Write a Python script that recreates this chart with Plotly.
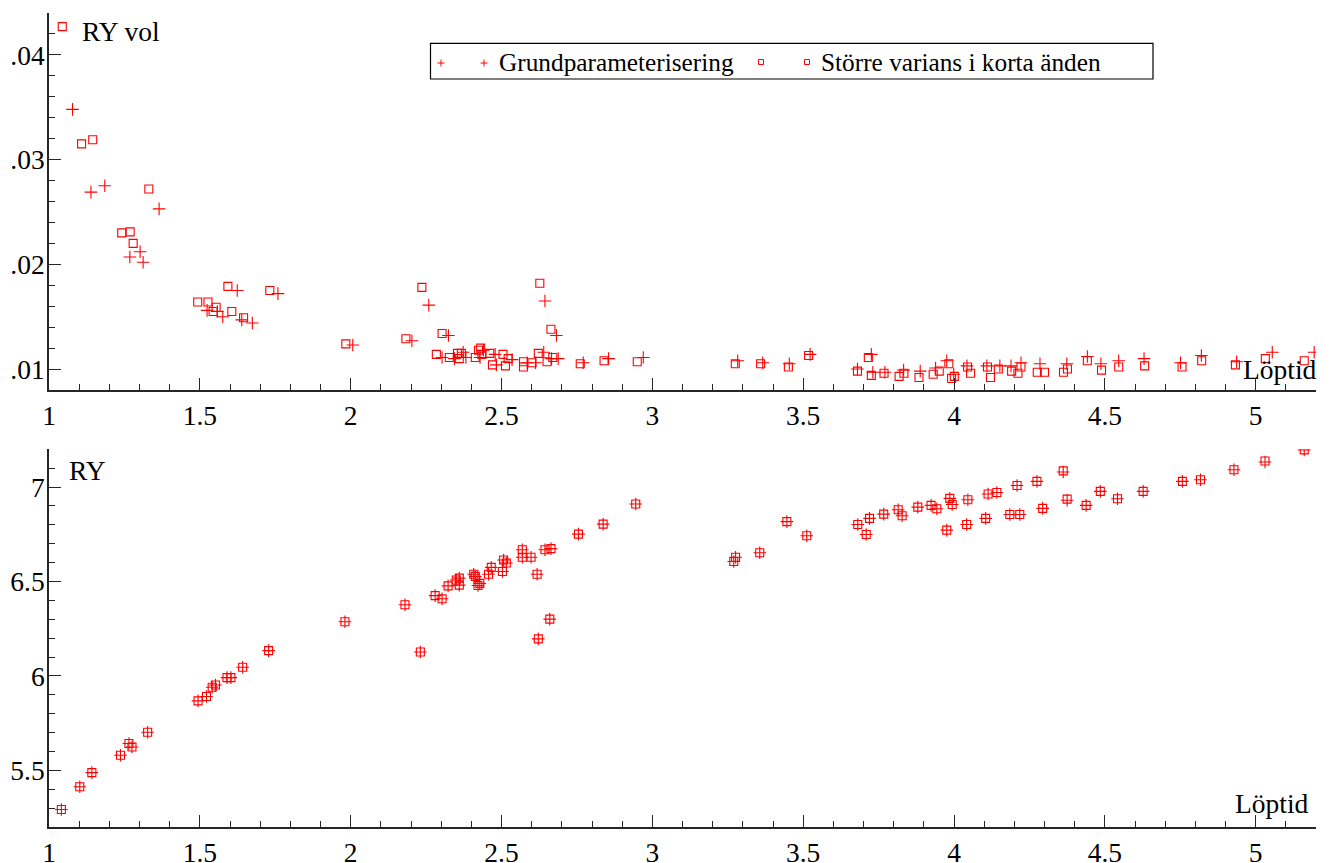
import plotly.graph_objects as go
from plotly.subplots import make_subplots

# ---------------- data ----------------
# Top panel: RY vol
VOL_STOR_X = [1.044, 1.108, 1.145, 1.241, 1.269, 1.279, 1.331, 1.493, 1.527, 1.544, 1.554, 1.593, 1.606,
              1.645, 1.732, 1.984, 2.183, 2.236, 2.284, 2.303, 2.327, 2.354, 2.360, 2.367, 2.413, 2.424,
              2.431, 2.435, 2.461, 2.470, 2.505, 2.513, 2.522, 2.573, 2.573, 2.601, 2.622, 2.627, 2.651,
              2.664, 2.670, 2.761, 2.840, 2.950, 3.275, 3.359, 3.451, 3.518, 3.680, 3.716, 3.726, 3.768,
              3.818, 3.834, 3.884, 3.931, 3.951, 3.983, 3.992, 4.001, 4.045, 4.055, 4.111, 4.121, 4.147,
              4.191, 4.212, 4.222, 4.276, 4.300, 4.363, 4.376, 4.442, 4.489, 4.546, 4.632, 4.756, 4.821,
              4.933, 5.032, 5.161]
VOL_STOR_Y = [0.0427, 0.0315, 0.0319, 0.0230, 0.0231, 0.0220, 0.0272, 0.0164, 0.0164, 0.0155, 0.0159, 0.0179, 0.0155,
              0.0149, 0.0175, 0.0124, 0.0129, 0.0178, 0.0114, 0.0134, 0.0111, 0.0115, 0.0110, 0.0115, 0.0111, 0.0118,
              0.0120, 0.0114, 0.0115, 0.0104, 0.0114, 0.0103, 0.0110, 0.0107, 0.0102, 0.0106, 0.0115, 0.0182, 0.0107,
              0.0138, 0.0111, 0.0105, 0.0108, 0.0107, 0.0105, 0.0105, 0.0102, 0.0113, 0.0098, 0.0111, 0.0094, 0.0096,
              0.0093, 0.0096, 0.0092, 0.0095, 0.0098, 0.0105, 0.0091, 0.0093, 0.0102, 0.0096, 0.0102, 0.0092, 0.0100,
              0.0098, 0.0096, 0.0102, 0.0097, 0.0097, 0.0097, 0.0100, 0.0108, 0.0099, 0.0102, 0.0103, 0.0102, 0.0108,
              0.0104, 0.0110, 0.0108]

VOL_GRUND_X = [1.078, 1.139, 1.185, 1.268, 1.302, 1.312, 1.365, 1.524, 1.558, 1.576, 1.624, 1.639, 1.674,
               1.759, 2.007, 2.203, 2.259, 2.303, 2.324, 2.344, 2.373, 2.382, 2.429, 2.440, 2.479, 2.483,
               2.535, 2.585, 2.613, 2.640, 2.644, 2.666, 2.682, 2.688, 2.771, 2.855, 2.970, 3.283, 3.366,
               3.454, 3.523, 3.680, 3.726, 3.731, 3.771, 3.833, 3.888, 3.939, 3.976, 3.999, 4.043, 4.109,
               4.152, 4.189, 4.222, 4.285, 4.374, 4.442, 4.487, 4.546, 4.630, 4.751, 4.820, 4.937, 5.055,
               5.194]
VOL_GRUND_Y = [0.0348, 0.0269, 0.0275, 0.0207, 0.0212, 0.0202, 0.0253, 0.0156, 0.0155, 0.0150, 0.0175, 0.0147, 0.0144,
               0.0172, 0.0123, 0.0127, 0.0161, 0.0111, 0.0132, 0.0110, 0.0116, 0.0111, 0.0111, 0.0118, 0.0114, 0.0104,
               0.0109, 0.0106, 0.0106, 0.0116, 0.0165, 0.0110, 0.0132, 0.0110, 0.0106, 0.0110, 0.0111, 0.0108, 0.0106,
               0.0105, 0.0114, 0.0100, 0.0114, 0.0097, 0.0097, 0.0099, 0.0098, 0.0101, 0.0108, 0.0095, 0.0103, 0.0103,
               0.0103, 0.0103, 0.0106, 0.0105, 0.0105, 0.0112, 0.0105, 0.0108, 0.0110, 0.0106, 0.0113, 0.0107, 0.0116,
               0.0116]

# Bottom panel: RY
RY_X = [1.041, 1.102, 1.142, 1.237, 1.265, 1.275, 1.327, 1.494, 1.522, 1.541, 1.552, 1.590, 1.603, 1.642,
        1.728, 1.981, 2.180, 2.231, 2.280, 2.303, 2.323, 2.350, 2.360, 2.360, 2.408, 2.413, 2.422, 2.428,
        2.457, 2.466, 2.503, 2.507, 2.516, 2.569, 2.569, 2.598, 2.618, 2.622, 2.644, 2.660, 2.664, 2.755,
        2.837, 2.945, 3.270, 3.276, 3.356, 3.446, 3.512, 3.681, 3.709, 3.720, 3.767, 3.815, 3.828, 3.880,
        3.924, 3.943, 3.976, 3.986, 3.994, 4.042, 4.046, 4.105, 4.113, 4.142, 4.185, 4.209, 4.218, 4.275,
        4.294, 4.362, 4.375, 4.438, 4.485, 4.542, 4.627, 4.757, 4.817, 4.928, 5.031, 5.161]
RY_GRUND = [5.293, 5.413, 5.488, 5.580, 5.642, 5.624, 5.702, 5.868, 5.891, 5.940, 5.952, 5.991, 5.991, 6.046,
            6.134, 6.287, 6.377, 6.127, 6.425, 6.409, 6.477, 6.508, 6.518, 6.481, 6.538, 6.527, 6.479, 6.490,
            6.538, 6.575, 6.553, 6.614, 6.598, 6.668, 6.628, 6.628, 6.538, 6.196, 6.668, 6.301, 6.674, 6.751,
            6.804, 6.910, 6.606, 6.628, 6.652, 6.817, 6.742, 6.802, 6.749, 6.834, 6.857, 6.880, 6.848, 6.894,
            6.903, 6.885, 6.772, 6.940, 6.908, 6.802, 6.933, 6.834, 6.963, 6.971, 6.855, 7.008, 6.855, 7.030,
            6.887, 7.080, 6.930, 6.903, 6.977, 6.938, 6.977, 7.030, 7.039, 7.092, 7.133, 7.197]
RY_STOR = [5.293, 5.413, 5.488, 5.580, 5.642, 5.624, 5.702, 5.868, 5.891, 5.940, 5.952, 5.991, 5.991, 6.046,
           6.134, 6.287, 6.377, 6.127, 6.425, 6.409, 6.477, 6.508, 6.518, 6.481, 6.538, 6.527, 6.479, 6.490,
           6.538, 6.575, 6.553, 6.614, 6.598, 6.668, 6.628, 6.628, 6.538, 6.196, 6.668, 6.301, 6.674, 6.751,
           6.804, 6.910, 6.606, 6.628, 6.652, 6.817, 6.742, 6.802, 6.749, 6.834, 6.857, 6.880, 6.848, 6.894,
           6.903, 6.885, 6.772, 6.940, 6.908, 6.802, 6.933, 6.834, 6.963, 6.971, 6.855, 7.008, 6.855, 7.030,
           6.887, 7.086, 6.936, 6.903, 6.977, 6.938, 6.977, 7.030, 7.039, 7.092, 7.138, 7.197]

X_TICKS = [1, 1.5, 2, 2.5, 3, 3.5, 4, 4.5, 5]
X_TICK_TEXT = ["1", "1.5", "2", "2.5", "3", "3.5", "4", "4.5", "5"]
VOL_TICKS = [0.01, 0.02, 0.03, 0.04]
VOL_TICK_TEXT = [".01", ".02", ".03", ".04"]
RY_TICKS = [5.5, 6, 6.5, 7]
RY_TICK_TEXT = ["5.5", "6", "6.5", "7"]

NAME_GRUND = "Grundparameterisering"
NAME_STOR = "Större varians i korta änden"

# ---------------- layout constants ----------------
OFF = 8  # page body margin
W, H = 1331 - OFF, 863 - OFF
L_ABS, R_ABS, T_ABS, B_ABS = 49, 1316, 13, 827   # plot area in window pixels
ML = L_ABS - OFF
MR = W - (R_ABS - OFF)
MT = T_ABS - OFF
MB = H - (B_ABS - OFF)
FONT = "Liberation Serif"
RED = "#ff0000"
AXC = "#262626"


def px_x(px):
    return (px - L_ABS) / (R_ABS - L_ABS)


def px_y(py):
    return (B_ABS - py) / (B_ABS - T_ABS)


top_lo = px_y(390)
bot_hi = px_y(449.3)

fig = make_subplots(rows=2, cols=1, shared_xaxes=False, vertical_spacing=0.05)

plus_marker = dict(symbol="cross-thin-open", size=9, color=RED, line=dict(color=RED, width=1.1))
sq_marker = dict(symbol="square-open", size=8, color=RED, line=dict(color=RED, width=1.1))

fig.add_trace(go.Scatter(x=VOL_GRUND_X, y=VOL_GRUND_Y, mode="markers", marker=plus_marker,
                         name=NAME_GRUND, showlegend=False), row=1, col=1)
fig.add_trace(go.Scatter(x=VOL_STOR_X, y=VOL_STOR_Y, mode="markers", marker=sq_marker,
                         name=NAME_STOR, showlegend=False), row=1, col=1)
fig.add_trace(go.Scatter(x=RY_X, y=RY_GRUND, mode="markers", marker=plus_marker,
                         name=NAME_GRUND, showlegend=False), row=2, col=1)
fig.add_trace(go.Scatter(x=RY_X, y=RY_STOR, mode="markers", marker=sq_marker,
                         name=NAME_STOR, showlegend=False), row=2, col=1)

xcommon = dict(range=[1, 5.2], tickvals=X_TICKS, ticktext=X_TICK_TEXT, ticks="inside", ticklen=12,
               tickwidth=1.3, tickcolor=AXC, showline=True, linecolor=AXC, linewidth=1.6, automargin=False,
               showgrid=False, zeroline=False, tickfont=dict(family=FONT, size=27.5, color="black"),
               minor=dict(ticks="inside", ticklen=6, dtick=0.1, tick0=1, tickcolor=AXC, tickwidth=1.1,
                          showgrid=False))
fig.update_xaxes(**xcommon)
fig.update_layout(
    xaxis=dict(domain=[0, 1], anchor="y"),
    xaxis2=dict(domain=[0, 1], anchor="y2"),
    yaxis=dict(domain=[top_lo, 1], range=[0.008, 0.044], tickvals=VOL_TICKS, ticktext=VOL_TICK_TEXT,
               minor=dict(ticks="inside", ticklen=6, dtick=0.002, tick0=0.008, tickcolor=AXC, tickwidth=1.1,
                          showgrid=False)),
    yaxis2=dict(domain=[0, bot_hi], range=[5.2, 7.2], tickvals=RY_TICKS, ticktext=RY_TICK_TEXT,
                minor=dict(ticks="inside", ticklen=6, dtick=0.1, tick0=5.2, tickcolor=AXC, tickwidth=1.1,
                           showgrid=False)),
)
fig.update_yaxes(ticks="inside", ticklen=12, tickwidth=1.3, tickcolor=AXC, showline=True, linecolor=AXC,
                 linewidth=1.6, showgrid=False, zeroline=False, ticklabelstandoff=-3, automargin=False,
                 tickfont=dict(family=FONT, size=27.5, color="black"))

annots = [
    dict(text="RY vol", x=px_x(80), y=px_y(31.5), xanchor="left", yanchor="middle"),
    dict(text="RY", x=px_x(67), y=px_y(470.3), xanchor="left", yanchor="middle"),
    dict(text="Löptid", x=px_x(1319), y=px_y(369.3), xanchor="right", yanchor="middle"),
    dict(text="Löptid", x=px_x(1311), y=px_y(803), xanchor="right", yanchor="middle"),
]
for a in annots:
    fig.add_annotation(xref="paper", yref="paper", showarrow=False,
                       font=dict(family=FONT, size=27.5, color="black"), **a)

# manual legend box (two marker samples per entry)
LEG_Y = 61.5
fig.add_shape(type="rect", xref="paper", yref="paper", x0=px_x(430.5), x1=px_x(1153),
              y0=px_y(79), y1=px_y(43.3), line=dict(color="black", width=1.2), fillcolor="white", layer="above")
fig.add_annotation(xref="paper", yref="paper", showarrow=False, text=NAME_GRUND, x=px_x(497), y=px_y(LEG_Y),
                   xanchor="left", yanchor="middle", font=dict(family=FONT, size=25.3, color="black"))
fig.add_annotation(xref="paper", yref="paper", showarrow=False, text=NAME_STOR, x=px_x(819), y=px_y(LEG_Y),
                   xanchor="left", yanchor="middle", font=dict(family=FONT, size=25.3, color="black"))
for cx in (441, 484):
    fig.add_shape(type="line", xref="paper", yref="paper", x0=px_x(cx - 3.5), x1=px_x(cx + 3.5),
                  y0=px_y(LEG_Y + 1.5), y1=px_y(LEG_Y + 1.5), line=dict(color=RED, width=1), layer="above")
    fig.add_shape(type="line", xref="paper", yref="paper", x0=px_x(cx), x1=px_x(cx),
                  y0=px_y(LEG_Y - 2), y1=px_y(LEG_Y + 5), line=dict(color=RED, width=1), layer="above")
for cx in (761, 807):
    fig.add_shape(type="rect", xref="paper", yref="paper", x0=px_x(cx - 2.5), x1=px_x(cx + 2.5),
                  y0=px_y(LEG_Y + 3), y1=px_y(LEG_Y - 2), line=dict(color=RED, width=1), layer="above")

fig.update_layout(width=W, height=H, margin=dict(l=ML, r=MR, t=MT, b=MB, autoexpand=False),
                  paper_bgcolor="white", plot_bgcolor="white", showlegend=False,
                  font=dict(family=FONT, size=27.5, color="black"))

fig.write_html("out.html")
